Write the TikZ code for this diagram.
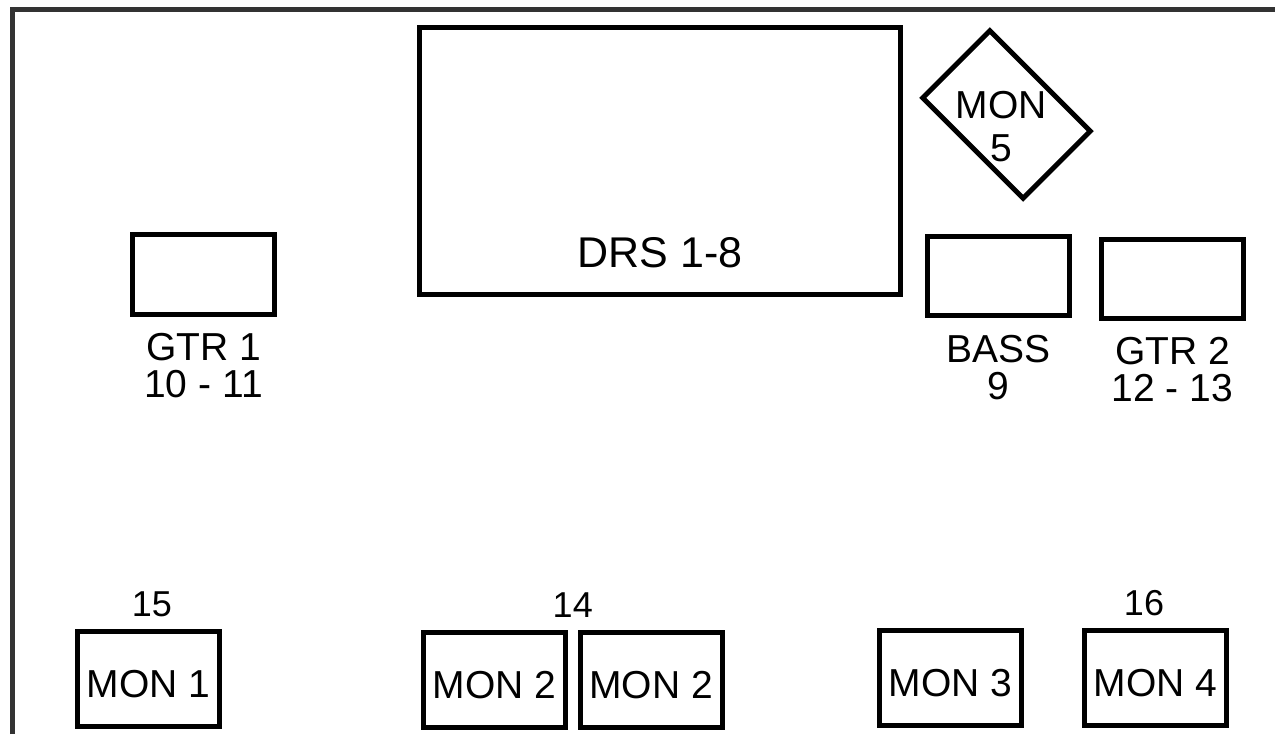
\documentclass[tikz,border=0pt]{standalone}
\usepackage{fontspec}
\setmainfont{Liberation Sans}
\usetikzlibrary{positioning, calc}

\begin{document}
\begin{tikzpicture}[x=1pt,y=-1pt,
  amp node/.style={rectangle,draw,line width=5pt,minimum width=142pt,minimum height=79.5pt,inner sep=0pt},
  mon node/.style={rectangle,draw,line width=5pt,minimum width=142pt,minimum height=95pt,inner sep=0pt,
    font=\fontsize{39}{37}\selectfont,text height=36pt,text depth=0pt},
  txt node/.style={inner sep=0pt,align=center,font=\fontsize{39}{37}\selectfont},
  num node/.style={inner sep=0pt,font=\fontsize{36}{36}\selectfont}]
  \useasboundingbox (0,0) rectangle (1275,734);
  % stage edge
  \draw[line width=4.5pt,black!80] (12.5,734) -- (12.5,9.3) -- (1275,9.3);
  % drums and monitor 5
  \node[amp node, minimum width=481pt, minimum height=267pt] (drs) at (660,161) {};
  \node[txt node, font=\fontsize{43}{43}\selectfont, above=29pt of drs.south] (drslbl) {DRS 1-8};
  \node[mon node, rotate=-45] (mon5) at (1006.5,114.5) {};
  \node[txt node, font=\fontsize{39}{43}\selectfont] (mon5lbl) at ([xshift=-5.5pt,yshift=-12.5pt]mon5.center) {MON\\5};
  % amps
  \node[amp node] (gtr1) at (203.5,274.5) {};
  \node[amp node] (bass) at (998.5,276) {};
  \node[amp node] (gtr2) at (1172.5,279) {};
  \node[txt node, below=16pt of gtr1] (gtr1lbl) {GTR 1\\10 - 11};
  \node[txt node, below=17pt of bass] (basslbl) {BASS\\9};
  \node[txt node, below=16pt of gtr2] (gtr2lbl) {GTR 2\\12 - 13};
  % wedges
  \node[mon node] (mon1) at (148.5,679) {MON 1};
  \node[mon node] (mon2a) at (494.5,680) {MON 2};
  \node[mon node] (mon2b) at (651,680) {MON 2};
  \node[mon node] (mon3) at (950.5,678) {MON 3};
  \node[mon node] (mon4) at (1155.5,678) {MON 4};
  \node[num node, above=12pt of mon1, xshift=3.5pt] (mix15) {15};
  \node[num node, above=12pt of $(mon2a.north)!0.5!(mon2b.north)$] (mix14) {14};
  \node[num node, above=12pt of mon4, xshift=-11.5pt] (mix16) {16};
\end{tikzpicture}
\end{document}
